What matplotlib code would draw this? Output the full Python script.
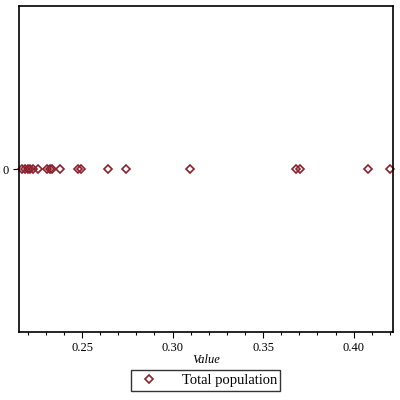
import matplotlib.pyplot as plt
from matplotlib.ticker import MultipleLocator

# Data
values = [0.2167, 0.2185, 0.2202, 0.2213, 0.2229, 0.2257, 0.2307, 0.2323,
          0.2334, 0.2378, 0.2478, 0.2494, 0.2644, 0.2743, 0.3097, 0.3682,
          0.3704, 0.4080, 0.4202]
series_name = "Total population"
xticks = [0.25, 0.30, 0.35, 0.40]
xtick_labels = ["0.25", "0.30", "0.35", "0.40"]

plt.rcParams['font.family'] = ['Liberation Serif', 'DejaVu Serif']

fig = plt.figure(figsize=(4, 4), dpi=100)
ax = fig.add_axes([0.0475, 0.17, 0.934, 0.815])

ax.plot(values, [0] * len(values), linestyle='none', marker='D', markersize=3.8,
        markerfacecolor='none', markeredgecolor='#8e1f2c', markeredgewidth=1.2,
        label=series_name, clip_on=False)

ax.set_xlim(0.2152, 0.4215)
ax.set_ylim(-1, 1)
ax.set_xticks(xticks, xtick_labels)
ax.xaxis.set_minor_locator(MultipleLocator(0.01))
ax.set_yticks([0], ["0"])
ax.tick_params(labelsize=9, length=4, width=0.8, direction='out')
ax.tick_params(which='minor', length=2.5, width=0.8)
for s in ax.spines.values():
    s.set_linewidth(1.2)

ax.set_xlabel("Value", fontstyle='italic', fontsize=9, labelpad=0)

ax.legend(loc='upper center', bbox_to_anchor=(0.5, -0.095), frameon=True,
          fancybox=False, edgecolor='black', fontsize=10.5, handletextpad=1.2,
          borderpad=0.25, markerscale=1.0)

fig.savefig("out.png", dpi=100)
